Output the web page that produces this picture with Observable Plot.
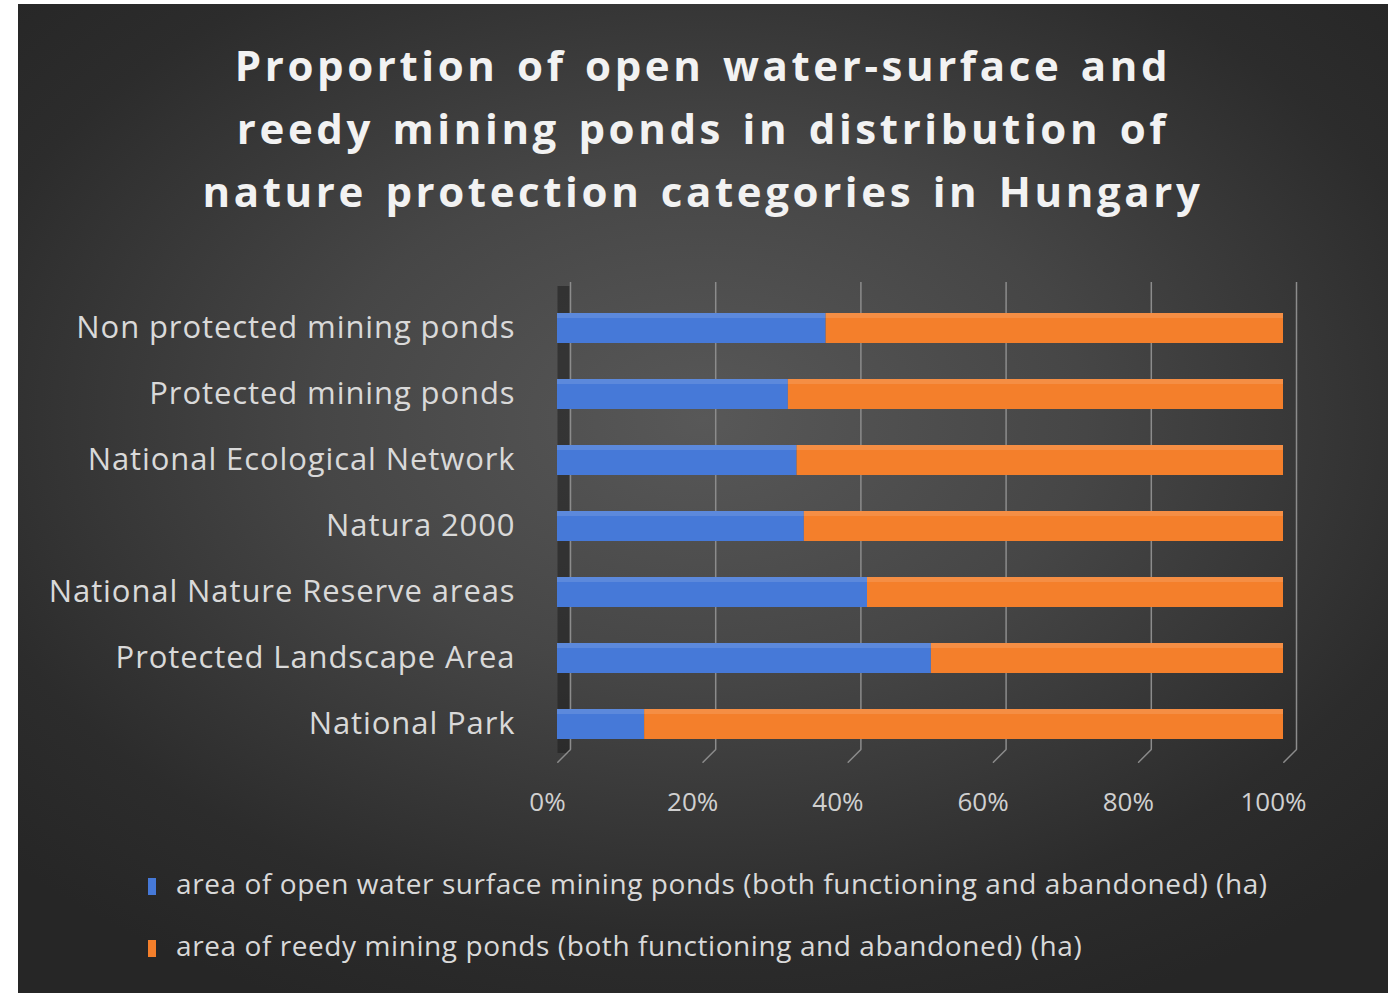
<!DOCTYPE html>
<html>
<head>
<meta charset="utf-8">
<script src="https://cdn.jsdelivr.net/npm/d3@7"></script>
<script src="https://cdn.jsdelivr.net/npm/@observablehq/plot@0.6"></script>
<style>
  html, body { margin: 0; padding: 0; background: #ffffff; }
  #card {
    position: absolute; left: 18px; top: 4px; width: 1370px; height: 989px;
    background: radial-gradient(ellipse 70% 65% at 50% 42%, #585858 0%, #464646 40%, #2c2c2c 80%, #262626 100%);
    overflow: hidden;
    font-family: "Open Sans", sans-serif;
  }
  #title {
    position: absolute; left: 0; top: 29px; width: 1370px; text-align: center;
    color: #f2f2f2; font-weight: 700; font-size: 42px; line-height: 63px; letter-spacing: 3.6px;
    word-spacing: 4px;
  }
  #plot { position: absolute; left: 0; top: 266px; }
  #plot svg [aria-label="y-axis tick label"] text { letter-spacing: 0.9px; }
  #legend { position: absolute; left: 130px; top: 857px; color: #d9d9d9; font-size: 28px; }
  .item { position: relative; height: 62px; line-height: 44px; white-space: nowrap; letter-spacing: 0.58px; }
  .sw { display: inline-block; width: 8px; height: 17px; margin-right: 20px; vertical-align: -1px; }
</style>
</head>
<body>
<div id="card">
  <div id="title">Proportion of open water-surface and<br>reedy mining ponds in distribution of<br>nature protection categories in Hungary</div>
  <div id="plot"></div>
  <div id="legend"></div>
</div>
<script>
// Categories, bottom to top as in the chart
const categories = [
  "National Park",
  "Protected Landscape Area",
  "National Nature Reserve areas",
  "Natura 2000",
  "National Ecological Network",
  "Protected mining ponds",
  "Non protected mining ponds"
];
const seriesNames = [
  "area of open water surface mining ponds (both functioning and abandoned) (ha)",
  "area of reedy mining ponds (both functioning and abandoned) (ha)"
];
const seriesColors = ["#4679d8", "#f47f2b"];
// Percent shares
const openWaterShare = [12, 51.5, 42.7, 34, 33, 31.8, 37];
const reedyShare     = [88, 48.5, 57.3, 66, 67, 68.2, 63];
const xTicks = [0, 20, 40, 60, 80, 100];

const rows = [];
categories.forEach((c, i) => {
  rows.push({category: c, series: seriesNames[0], value: openWaterShare[i]});
  rows.push({category: c, series: seriesNames[1], value: reedyShare[i]});
});

const textColor = "#d9d9d9";
const lineShape = { draw(ctx, l) { ctx.moveTo(0, 0); ctx.lineTo(0, -l); } };

const marks = [
  Plot.ruleX([0], { dx: 6, dy: -6, stroke: "#1e1e1e", strokeWidth: 12, strokeOpacity: 0.55 }),
  Plot.ruleX(xTicks, { dx: 13, dy: -10, stroke: "#8c8c8c", strokeWidth: 1.5 })
];
try {
  marks.push(Plot.vector(xTicks, { x: d => d, frameAnchor: "bottom", dx: 13, dy: -10, length: 18, rotate: 225, anchor: "start", shape: lineShape, stroke: "#8c8c8c", strokeWidth: 1.5 }));
} catch (e) {}
marks.push(
  Plot.barX(rows, Plot.stackX({ x: "value", y: "category", fill: "series", order: seriesNames })),
  Plot.barX(rows, Plot.stackX({ x: "value", y: "category", z: "series", fill: "#ffffff", fillOpacity: 0.12, insetBottom: 25, order: seriesNames })),
  Plot.axisY({ tickSize: 0, tickPadding: 42, fontSize: 31, fill: textColor, label: null }),
  Plot.axisX({ ticks: xTicks, tickSize: 0, tickPadding: 33, dx: -10, fontSize: 26, fill: "#d0d0d0", tickFormat: d => d + "%", label: null })
);

const chart = Plot.plot({
  width: 1370,
  height: 560,
  marginLeft: 539,
  marginRight: 105,
  marginTop: 22,
  marginBottom: 71,
  style: { background: "transparent", color: textColor, fontFamily: "Open Sans, sans-serif" },
  x: { domain: [0, 100] },
  y: { domain: categories.slice().reverse(), paddingInner: 0.55, paddingOuter: 0.275 },
  color: { domain: seriesNames, range: seriesColors },
  marks
});
document.getElementById("plot").appendChild(chart);

const legend = document.getElementById("legend");
seriesNames.forEach((s, i) => {
  const div = document.createElement("div");
  div.className = "item";
  const sw = document.createElement("span");
  sw.className = "sw";
  sw.style.background = seriesColors[i];
  div.appendChild(sw);
  div.appendChild(document.createTextNode(s));
  legend.appendChild(div);
});
</script>
</body>
</html>
